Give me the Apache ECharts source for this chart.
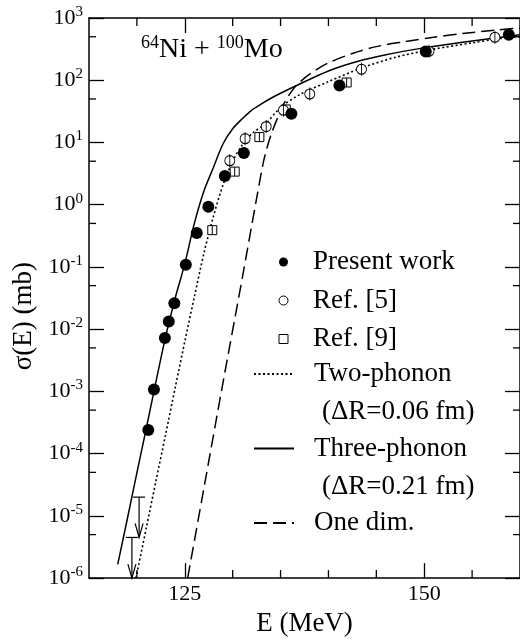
<!DOCTYPE html>
<html>
<head>
<meta charset="utf-8">
<script src="https://cdn.jsdelivr.net/npm/echarts@6/dist/echarts.min.js"></script>
<style>
  html, body { margin: 0; padding: 0; background: #fff; }
  #chart { width: 520px; height: 642px; }
</style>
</head>
<body>
<div id="chart"></div>
<script>
// 64Ni + 100Mo fusion excitation function
var presentE = [121.19, 121.78, 122.92, 123.33, 123.91, 125.11, 126.25, 127.46, 129.18, 131.17, 136.13, 141.15, 150.16, 158.83];
var presentSigma = [2.4e-4, 1.07e-3, 7.2e-3, 1.33e-2, 2.6e-2, 0.108, 0.35, 0.93, 2.9, 6.8, 29, 82, 290, 540];

var ref5E = [129.7, 131.3, 133.5, 135.3, 138.05, 143.45, 150.5, 157.38];
var ref5Sigma = [5.1, 11.5, 18, 33, 60, 150, 292, 490];

var ref9E = [127.87, 130.21, 132.79, 135.54, 141.9];
var ref9Sigma = [0.39, 3.4, 12.2, 34, 92];

// upper limits: energy, bar value, arrow tip
var limitE = [120.23, 119.48];
var limitTop = [2.0e-5, 4.5e-6];
var limitTip = [4.5e-6, 1.0e-6];

var threeE = [118, 119, 120, 121, 122, 123, 124, 125, 126, 127, 128, 129, 130, 131, 132, 133, 134, 135, 137, 140, 143, 146, 150, 154, 158, 160];
var threeSigma = [1.66e-6, 8.9e-6, 4.9e-5, 2.63e-4, 1.45e-3, 7.6e-3, 3.16e-2, 0.112, 0.5, 1.66, 4.0, 9.55, 16.6, 24, 33.1, 41.7, 51.3, 61.7, 87, 141, 200, 257, 331, 407, 490, 537];

var twoE = [119.9, 121, 122, 123, 124, 125, 126, 127, 128, 129, 130, 131, 132, 133.5, 135, 137, 140, 143.5, 147, 151, 155, 158, 160];
var twoSigma = [1e-6, 6.6e-6, 3.7e-5, 2.04e-4, 1.15e-3, 6.3e-3, 3.3e-2, 0.166, 0.66, 2.09, 5.0, 9.1, 13.8, 20.5, 36.3, 58.9, 95, 158, 234, 316, 398, 468, 501];

var oneE = [125.3, 127, 129, 131, 132.5, 133.3, 134, 134.7, 135.5, 136.5, 138, 140, 142.5, 145, 148, 151, 154, 157.7, 160];
var oneSigma = [1e-6, 2.8e-5, 1.41e-3, 6.6e-2, 1.26, 5.6, 13.2, 25, 46, 78, 124, 190, 269, 347, 417, 490, 562, 646, 692];

var xMajorTicks = [125, 150];
var xMinorTicks = [120, 130, 135, 140, 145, 155];
var yMinorTicks = [5e-6, 5e-5, 5e-4, 5e-3, 5e-2, 5e-1, 5, 50, 500];

var FONT = 'Liberation Serif';

function zip(a, b) {
    var out = [];
    for (var i = 0; i < a.length; i++) out.push([a[i], b[i]]);
    return out;
}

var myChart = echarts.init(document.getElementById('chart'));

var tickStyle = { color: '#000', width: 1.3 };

var option = {
    animation: false,
    backgroundColor: '#fff',
    title: {
        text: '{s|64}{m|Ni + }{s|100}{m|Mo}',
        left: 136,
        top: 29,
        textStyle: {
            rich: {
                m: { fontFamily: FONT, fontSize: 28, fontWeight: 'normal', color: '#000' },
                s: { fontFamily: FONT, fontSize: 18, fontWeight: 'normal', color: '#000', padding: [0, 0, 14, 0] }
            }
        }
    },
    grid: { left: 89, top: 18, width: 436, height: 561 },
    xAxis: [
        {
            type: 'value', min: 115, max: 160, position: 'bottom',
            name: 'E (MeV)', nameLocation: 'middle', nameGap: 30,
            nameTextStyle: { fontFamily: FONT, fontSize: 27, color: '#000' },
            axisLine: { lineStyle: { color: '#000', width: 1.5 } },
            axisTick: { inside: true, length: 15, lineStyle: tickStyle, customValues: xMajorTicks },
            axisLabel: { customValues: xMajorTicks, fontFamily: FONT, fontSize: 22, color: '#000', margin: 5 },
            splitLine: { show: false }
        },
        {
            type: 'value', min: 115, max: 160, position: 'top',
            axisLine: { lineStyle: { color: '#000', width: 1.5 } },
            axisTick: { inside: true, length: 15, lineStyle: tickStyle, customValues: xMajorTicks },
            axisLabel: { show: false },
            splitLine: { show: false }
        }
    ],
    yAxis: [
        {
            type: 'log', logBase: 10, min: 1e-6, max: 1e3, position: 'left',
            name: 'σ(E) (mb)', nameLocation: 'middle', nameGap: 44,
            nameTextStyle: { fontFamily: FONT, fontSize: 27, color: '#000', padding: [0, 36, 0, 0] },
            axisLine: { lineStyle: { color: '#000', width: 1.5 } },
            axisTick: { inside: true, length: 15, lineStyle: tickStyle },
            axisLabel: {
                margin: 6,
                formatter: function (v) {
                    var e = Math.round(Math.log10(v));
                    return '{b|10}{s|' + e + '}';
                },
                rich: {
                    b: { fontFamily: FONT, fontSize: 22, color: '#000' },
                    s: { fontFamily: FONT, fontSize: 15, color: '#000', padding: [0, 0, 12, 0] }
                }
            },
            splitLine: { show: false }
        },
        {
            type: 'log', logBase: 10, min: 1e-6, max: 1e3, position: 'right',
            axisLine: { lineStyle: { color: '#000', width: 1.5 } },
            axisTick: { inside: true, length: 15, lineStyle: tickStyle },
            axisLabel: { show: false },
            splitLine: { show: false }
        }
    ],
    legend: [
        {
            orient: 'vertical', left: 278.5, top: 247, padding: 0,
            itemWidth: 9, itemHeight: 9, itemGap: 8.5,
            textStyle: { fontFamily: FONT, fontSize: 27, color: '#000', lineHeight: 30, padding: [0, 0, 0, 20] },
            data: [
                { name: 'Present work', icon: 'circle', itemStyle: { color: '#000', borderWidth: 0, opacity: 1 } },
                { name: 'Ref. [5]', icon: 'circle', itemStyle: { color: '#fff', borderColor: '#000', borderWidth: 1, opacity: 1 } },
                { name: 'Ref. [9]', icon: 'rect', itemStyle: { color: '#fff', borderColor: '#000', borderWidth: 1, opacity: 1 } }
            ]
        },
        {
            orient: 'vertical', left: 253, top: 359, padding: 0,
            itemWidth: 40, itemHeight: 10, itemGap: 44.5,
            itemStyle: { color: 'rgba(0,0,0,0)', borderWidth: 0, opacity: 0 },
            textStyle: { fontFamily: FONT, fontSize: 27, color: '#000', lineHeight: 30, padding: [0, 0, 0, 15] },
            data: ['Two-phonon', 'Three-phonon', 'One dim.']
        }
    ],
    graphic: [
        { type: 'text', x: 322, y: 412, style: { text: '(ΔR=0.06 fm)', fontFamily: FONT, fontSize: 27, fill: '#000', verticalAlign: 'middle' } },
        { type: 'text', x: 322, y: 487, style: { text: '(ΔR=0.21 fm)', fontFamily: FONT, fontSize: 27, fill: '#000', verticalAlign: 'middle' } }
    ],
    series: [
        {
            name: 'Three-phonon', type: 'line', data: zip(threeE, threeSigma),
            symbol: 'none', smooth: 0.3,
            lineStyle: { color: '#000', width: 1.5, type: 'solid' }, itemStyle: { color: '#000' }
        },
        {
            name: 'Two-phonon', type: 'line', data: zip(twoE, twoSigma),
            symbol: 'none', smooth: 0.3,
            lineStyle: { color: '#000', width: 1.6, type: [2, 2.5] }, itemStyle: { color: '#000' }
        },
        {
            name: 'One dim.', type: 'line', data: zip(oneE, oneSigma),
            symbol: 'none', smooth: 0.3,
            lineStyle: { color: '#000', width: 1.5, type: [13, 6] }, itemStyle: { color: '#000' }
        },
        {
            name: 'Ref. [9]', type: 'scatter', data: zip(ref9E, ref9Sigma), z: 3,
            symbol: 'path://M-10,-10 L10,-10 L10,10 L-10,10 Z M0,-10 L0,10', symbolSize: 9,
            itemStyle: { color: '#fff', borderColor: '#000', borderWidth: 1, opacity: 1 }
        },
        {
            name: 'Ref. [5]', type: 'scatter', data: zip(ref5E, ref5Sigma), z: 3,
            symbol: 'path://M0,-13 L0,13 M10,0 A10,10 0 1 1 -10,0 A10,10 0 1 1 10,0 Z', symbolSize: [10, 13],
            itemStyle: { color: '#fff', borderColor: '#000', borderWidth: 1, opacity: 1 }
        },
        {
            name: 'Present work', type: 'scatter', data: zip(presentE, presentSigma), z: 4,
            symbol: 'circle', symbolSize: 12,
            itemStyle: { color: '#000', borderWidth: 0, opacity: 1 }
        },
        {
            name: 'limits', type: 'custom', clip: false, z: 3,
            data: limitE.map(function (e, i) { return [e, limitTop[i], limitTip[i]]; }),
            renderItem: function (params, api) {
                var top = api.coord([api.value(0), api.value(1)]);
                var tip = api.coord([api.value(0), api.value(2)]);
                var st = { stroke: '#000', lineWidth: 1.2, fill: 'none' };
                return {
                    type: 'group',
                    children: [
                        { type: 'line', shape: { x1: top[0] - 6, y1: top[1], x2: top[0] + 6, y2: top[1] }, style: st },
                        { type: 'line', shape: { x1: top[0], y1: top[1], x2: tip[0], y2: tip[1] }, style: st },
                        { type: 'polyline', shape: { points: [[tip[0] - 4, tip[1] - 14], [tip[0], tip[1]], [tip[0] + 4, tip[1] - 14]] }, style: st }
                    ]
                };
            }
        },
        {
            name: 'xminor', type: 'custom', clip: false, silent: true,
            data: xMinorTicks.map(function (v) { return [v, 1e-6]; }),
            renderItem: function (params, api) {
                var b = api.coord([api.value(0), 1e-6]);
                var t = api.coord([api.value(0), 1e3]);
                var st = { stroke: '#000', lineWidth: 1.3 };
                return {
                    type: 'group',
                    children: [
                        { type: 'line', shape: { x1: b[0], y1: b[1], x2: b[0], y2: b[1] - 8 }, style: st },
                        { type: 'line', shape: { x1: t[0], y1: t[1], x2: t[0], y2: t[1] + 8 }, style: st }
                    ]
                };
            }
        },
        {
            name: 'yminor', type: 'custom', clip: false, silent: true,
            data: yMinorTicks.map(function (v) { return [115, v]; }),
            renderItem: function (params, api) {
                var l = api.coord([115, api.value(1)]);
                var r = api.coord([160, api.value(1)]);
                var st = { stroke: '#000', lineWidth: 1.3 };
                return {
                    type: 'group',
                    children: [
                        { type: 'line', shape: { x1: l[0], y1: l[1], x2: l[0] + 7, y2: l[1] }, style: st },
                        { type: 'line', shape: { x1: r[0], y1: r[1], x2: r[0] - 7, y2: r[1] }, style: st }
                    ]
                };
            }
        }
    ]
};

myChart.setOption(option);
window.addEventListener('resize', function () {
    myChart.resize();
});
</script>
</body>
</html>
